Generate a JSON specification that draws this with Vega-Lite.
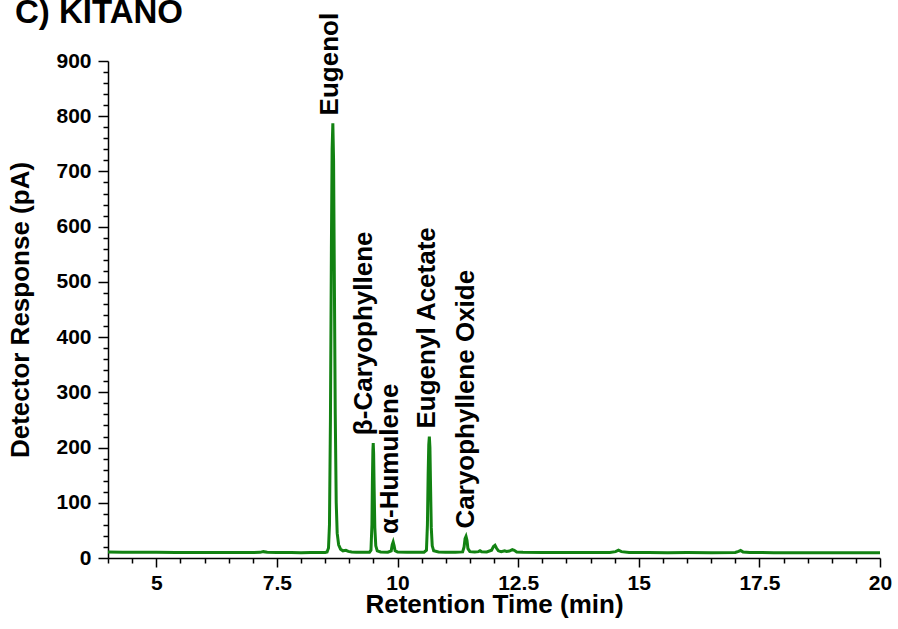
{
  "$schema": "https://vega.github.io/schema/vega-lite/v6.json",
  "width": 772,
  "height": 497,
  "autosize": {"type": "none"},
  "padding": {"left": 108, "top": 61, "right": 18, "bottom": 71},
  "background": "white",
  "title": {
    "text": "C) KITANO",
    "anchor": "start",
    "frame": "group",
    "font": "Liberation Sans",
    "fontSize": 33,
    "fontWeight": "bold",
    "color": "black",
    "baseline": "alphabetic",
    "dx": -93,
    "offset": 0,
    "dy": 43
  },
  "config": {
    "view": {"stroke": null},
    "axis": {
      "grid": false,
      "domainColor": "black",
      "domainWidth": 1.5,
      "tickColor": "black",
      "tickWidth": 1.5,
      "labelOverlap": false,
      "labelFont": "Liberation Sans",
      "labelFontSize": 21,
      "labelFontWeight": "bold",
      "labelColor": "black",
      "titleFont": "Liberation Sans",
      "titleFontSize": 26,
      "titleFontWeight": "bold",
      "titleColor": "black"
    }
  },
  "datasets": {
    "trace": [
      {"t": 4.0, "v": 10.8}, {"t": 4.3, "v": 10.5}, {"t": 4.6, "v": 10.2}, {"t": 5.0, "v": 10.3},
      {"t": 5.4, "v": 10.0}, {"t": 5.8, "v": 9.9}, {"t": 6.2, "v": 10.0}, {"t": 6.6, "v": 9.8},
      {"t": 7.0, "v": 9.9}, {"t": 7.15, "v": 10.2}, {"t": 7.22, "v": 11.5}, {"t": 7.3, "v": 10.4},
      {"t": 7.5, "v": 10.0}, {"t": 7.8, "v": 9.8}, {"t": 8.0, "v": 9.7}, {"t": 8.2, "v": 9.8},
      {"t": 8.4, "v": 9.8}, {"t": 8.5, "v": 10.0},
      {"t": 8.54, "v": 11}, {"t": 8.57, "v": 18}, {"t": 8.59, "v": 60}, {"t": 8.61, "v": 250},
      {"t": 8.63, "v": 560}, {"t": 8.645, "v": 740}, {"t": 8.66, "v": 787}, {"t": 8.675, "v": 720},
      {"t": 8.69, "v": 520}, {"t": 8.71, "v": 260}, {"t": 8.73, "v": 100}, {"t": 8.75, "v": 45},
      {"t": 8.78, "v": 24}, {"t": 8.82, "v": 16}, {"t": 8.87, "v": 13}, {"t": 8.93, "v": 14},
      {"t": 8.98, "v": 12}, {"t": 9.05, "v": 11}, {"t": 9.15, "v": 10.5}, {"t": 9.3, "v": 10.2},
      {"t": 9.42, "v": 10.5},
      {"t": 9.45, "v": 14}, {"t": 9.47, "v": 60}, {"t": 9.48, "v": 140}, {"t": 9.49, "v": 195},
      {"t": 9.497, "v": 208}, {"t": 9.505, "v": 190}, {"t": 9.515, "v": 130}, {"t": 9.53, "v": 55},
      {"t": 9.55, "v": 22}, {"t": 9.58, "v": 13}, {"t": 9.65, "v": 11}, {"t": 9.8, "v": 10.5},
      {"t": 9.87, "v": 13}, {"t": 9.89, "v": 24}, {"t": 9.91, "v": 29}, {"t": 9.93, "v": 22},
      {"t": 9.95, "v": 13}, {"t": 10.0, "v": 11}, {"t": 10.2, "v": 10.3}, {"t": 10.4, "v": 10.2},
      {"t": 10.55, "v": 10.5},
      {"t": 10.6, "v": 14}, {"t": 10.62, "v": 60}, {"t": 10.635, "v": 150}, {"t": 10.648, "v": 205},
      {"t": 10.66, "v": 220}, {"t": 10.672, "v": 200}, {"t": 10.685, "v": 130}, {"t": 10.7, "v": 55},
      {"t": 10.72, "v": 22}, {"t": 10.75, "v": 13}, {"t": 10.85, "v": 11}, {"t": 11.0, "v": 10.5},
      {"t": 11.2, "v": 10.3}, {"t": 11.35, "v": 11}, {"t": 11.38, "v": 20}, {"t": 11.4, "v": 35},
      {"t": 11.42, "v": 39}, {"t": 11.44, "v": 32}, {"t": 11.46, "v": 17}, {"t": 11.5, "v": 11.5},
      {"t": 11.6, "v": 10.8}, {"t": 11.68, "v": 11.5}, {"t": 11.71, "v": 13}, {"t": 11.74, "v": 11.5},
      {"t": 11.85, "v": 11}, {"t": 11.95, "v": 14}, {"t": 11.99, "v": 21}, {"t": 12.02, "v": 23},
      {"t": 12.05, "v": 18}, {"t": 12.09, "v": 13}, {"t": 12.15, "v": 11.5}, {"t": 12.22, "v": 13},
      {"t": 12.26, "v": 12}, {"t": 12.32, "v": 12.5}, {"t": 12.38, "v": 15}, {"t": 12.42, "v": 14},
      {"t": 12.47, "v": 11}, {"t": 12.6, "v": 10.2}, {"t": 13.0, "v": 10}, {"t": 13.5, "v": 9.8},
      {"t": 14.0, "v": 9.9}, {"t": 14.4, "v": 10}, {"t": 14.52, "v": 11.5}, {"t": 14.58, "v": 14},
      {"t": 14.64, "v": 11.5}, {"t": 14.8, "v": 10}, {"t": 15.2, "v": 9.9}, {"t": 15.6, "v": 9.7},
      {"t": 16.0, "v": 9.8}, {"t": 16.5, "v": 9.7}, {"t": 17.0, "v": 10}, {"t": 17.07, "v": 12},
      {"t": 17.11, "v": 13.5}, {"t": 17.16, "v": 11}, {"t": 17.3, "v": 9.8}, {"t": 17.8, "v": 9.7},
      {"t": 18.3, "v": 9.6}, {"t": 18.8, "v": 9.7}, {"t": 19.3, "v": 9.6}, {"t": 20.0, "v": 9.7}
    ],
    "peaks": [
      {"name": "Eugenol", "t": 8.6, "v": 787},
      {"name": "β-Caryophyllene", "t": 9.31, "v": 208},
      {"name": "α-Humulene", "t": 9.85, "v": 29},
      {"name": "Eugenyl Acetate", "t": 10.62, "v": 220},
      {"name": "Caryophyllene Oxide", "t": 11.42, "v": 39}
    ]
  },
  "encoding": {
    "x": {
      "field": "t",
      "type": "quantitative",
      "scale": {"domain": [4, 20], "nice": false, "zero": false},
      "axis": {
        "title": "Retention Time (min)",
        "values": [4, 4.5, 5, 5.5, 6, 6.5, 7, 7.5, 8, 8.5, 9, 9.5, 10, 10.5, 11, 11.5, 12, 12.5, 13, 13.5, 14, 14.5, 15, 15.5, 16, 16.5, 17, 17.5, 18, 18.5, 19, 19.5, 20],
        "format": ".1~f",
        "labelExpr": "datum.value % 2.5 === 0 ? datum.label : ''",
        "tickSize": {"condition": {"test": "datum.value % 2.5 === 0", "value": 9}, "value": 5},
        "labelPadding": 5,
        "labelFlush": false,
        "labelOverlap": false,
        "titleBaseline": "alphabetic",
        "titleY": 54
      }
    },
    "y": {
      "field": "v",
      "type": "quantitative",
      "scale": {"domain": [0, 900], "nice": false},
      "axis": {
        "title": "Detector Response (pA)",
        "values": [0, 20, 40, 60, 80, 100, 120, 140, 160, 180, 200, 220, 240, 260, 280, 300, 320, 340, 360, 380, 400, 420, 440, 460, 480, 500, 520, 540, 560, 580, 600, 620, 640, 660, 680, 700, 720, 740, 760, 780, 800, 820, 840, 860, 880, 900],
        "format": "d",
        "labelExpr": "datum.value % 100 === 0 ? datum.label : ''",
        "tickSize": {"condition": {"test": "datum.value % 100 === 0", "value": 10}, "value": 5},
        "labelPadding": 7,
        "labelFlush": false,
        "labelOverlap": false,
        "titleBaseline": "alphabetic",
        "titleX": -80
      }
    }
  },
  "layer": [
    {
      "data": {"name": "trace"},
      "mark": {"type": "line", "color": "#128212", "strokeWidth": 3, "interpolate": "linear"}
    },
    {
      "data": {"name": "peaks"},
      "mark": {
        "type": "text",
        "angle": 270,
        "align": "left",
        "baseline": "middle",
        "dx": 8,
        "font": "Liberation Sans",
        "fontSize": 26,
        "fontWeight": "bold",
        "color": "black"
      },
      "encoding": {
        "text": {"field": "name"}
      }
    }
  ]
}
